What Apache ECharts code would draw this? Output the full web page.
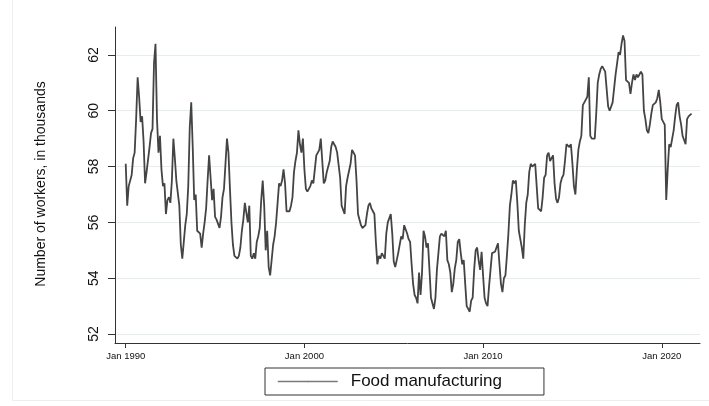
<!DOCTYPE html>
<html><head><meta charset="utf-8">
<script src="https://cdn.jsdelivr.net/npm/echarts@6/dist/echarts.min.js"></script>
<style>html,body{margin:0;padding:0;background:#fff}#c{width:709px;height:406px}</style>
</head><body><div id="c"></div>
<script>
const seriesName = 'Food manufacturing';
const yAxisTitle = 'Number of workers, in thousands';
const startYear = 1990;
const values1990s = [
  58.1, 56.6, 57.3, 57.3, 57.7, 58.3, 58.5, 59.7, 61.2, 60.5, 59.6, 59.8,
  58.9, 57.4, 57.8, 57.8, 58.7, 59.2, 59.35, 61.7, 62.4, 59.7, 58.5, 59.1,
  57.9, 57.3, 57.4, 56.3, 56.8, 56.9, 56.7, 57.5, 59.0, 58.3, 57.5, 57.5,
  56.6, 55.2, 54.7, 55.3, 55.9, 56.3, 57.3, 59.4, 60.3, 58.7, 56.8, 57.0,
  55.7, 55.7, 55.6, 55.1, 55.6, 56.0, 56.5, 57.5, 58.4, 57.6, 56.8, 57.2,
  56.2, 56.1, 56.1, 55.8, 56.2, 56.9, 57.2, 58.1, 59.0, 58.5, 57.2, 56.0,
  55.2, 54.8, 54.8, 54.7, 54.8, 55.1, 55.7, 56.1, 56.7, 56.7, 56.0, 56.6,
  54.8, 54.7, 54.9, 54.7, 55.3, 55.5, 55.8, 56.8, 57.5, 56.6, 55.0, 55.7,
  54.4, 54.1, 54.1, 55.2, 55.5, 56.0, 56.7, 57.4, 57.3, 57.5, 57.9, 57.4,
  56.4, 56.4, 56.4, 56.6, 56.9, 57.8, 58.2, 58.5, 59.3, 58.8, 58.5, 59.0
];
const values2000s = [
  57.9, 57.2, 57.1, 57.1, 57.3, 57.5, 57.4, 57.9, 58.4, 58.4, 58.6, 59.0,
  58.2, 57.4, 57.5, 57.8, 58.0, 58.2, 58.7, 58.9, 58.85, 58.7, 58.5, 58.5,
  57.6, 56.6, 56.6, 56.3, 57.3, 57.6, 57.6, 58.1, 58.6, 58.5, 58.4, 57.5,
  56.3, 56.3, 55.9, 55.8, 55.8, 55.9, 56.3, 56.6, 56.7, 56.5, 56.4, 56.3,
  55.3, 54.5, 54.8, 54.7, 54.9, 54.9, 54.7, 55.6, 56.0, 56.0, 56.3, 55.6,
  54.6, 54.4, 54.35, 54.9, 54.95, 55.5, 55.4, 55.9, 55.9, 55.6, 55.4, 55.3,
  54.5, 53.8, 53.4, 53.3, 53.1, 54.2, 53.4, 54.2, 55.7, 55.5, 55.1, 55.25,
  54.3, 53.3, 53.3, 52.9, 53.3, 54.3, 54.9, 55.5, 55.6, 55.6, 55.5, 55.7,
  54.65, 54.5, 54.2, 53.5, 53.8, 54.35, 54.65, 55.3, 55.4, 54.9, 54.5, 54.65,
  53.8, 53.0, 52.9, 52.8, 53.2, 53.3, 54.3, 55.0, 55.1, 54.65, 54.3, 54.95
];
const values2010s = [
  54.1, 53.3, 53.1, 53.0, 53.7, 54.3, 54.9, 54.9, 54.95, 54.9, 55.25, 54.5,
  53.8, 53.5, 54.0, 54.1, 54.8, 55.6, 56.6, 57.0, 57.5, 57.4, 57.5, 56.7,
  55.7, 55.4, 55.1, 54.7, 55.9, 56.7, 57.0, 57.8, 58.1, 58.0, 58.0, 58.1,
  57.3, 56.5, 56.5, 56.4, 56.9, 57.6, 57.7, 58.4, 58.5, 58.2, 58.2, 58.4,
  57.4, 56.85, 56.7, 56.9, 57.4, 57.6, 57.7, 58.2, 58.8, 58.8, 58.7, 58.8,
  58.1, 57.3, 57.0, 57.9, 58.6, 58.9, 59.1, 60.2, 60.3, 60.4, 60.5, 61.2,
  59.1, 59.0, 59.0, 59.0, 59.9, 61.0, 61.3, 61.5, 61.6, 61.6, 61.4, 61.4,
  60.15, 60.0, 60.0, 60.3, 60.8, 61.3, 61.7, 62.1, 62.0, 62.4, 62.7, 62.5,
  61.1, 61.1, 61.0, 60.6, 61.0, 61.3, 61.1, 61.3, 61.2, 61.3, 61.4, 61.3,
  60.0, 59.7, 59.3, 59.2, 59.5, 59.9, 60.2, 60.15, 60.3, 60.45, 60.75, 60.3
];
const values2020s = [
  59.7, 59.6, 59.5, 56.8, 57.9, 58.8, 58.7, 59.0, 59.3, 59.8, 60.2, 60.3,
  59.8, 59.5, 59.1, 58.95, 58.8, 59.7, 59.8, 59.8, 59.9
];
const xTickYears = [1990, 2000, 2010, 2020];
const yTickValues = [52, 54, 56, 58, 60, 62];

const allValues = values1990s.concat(values2000s, values2010s, values2020s);
const seriesData = allValues.map((v, i) => [startYear + i / 12, v]);

const chart = echarts.init(document.getElementById('c'), null, {renderer: 'canvas'});
const font = 'Liberation Sans, Arial, sans-serif';
chart.setOption({
  backgroundColor: '#ffffff',
  animation: false,
  textStyle: {fontFamily: font},
  grid: {left: 115, right: 9, top: 27, bottom: 63, containLabel: false},
  xAxis: {
    type: 'value', min: 1989.40, max: 2022.14,
    axisLine: {show: true, onZero: false, lineStyle: {color: '#333', width: 1}},
    axisTick: {show: true, length: 5, lineStyle: {color: '#333'}, customValues: xTickYears},
    axisLabel: {customValues: xTickYears, formatter: v => 'Jan ' + Math.round(v), fontSize: 9.5, color: '#111', margin: 8, fontFamily: font},
    splitLine: {show: false}
  },
  yAxis: {
    type: 'value', min: 51.68, max: 63.0,
    axisLine: {show: true, onZero: false, lineStyle: {color: '#333', width: 1}},
    axisTick: {show: true, length: 7, lineStyle: {color: '#333'}, customValues: yTickValues},
    axisLabel: {customValues: yTickValues, rotate: 90, fontSize: 14, color: '#111', margin: 14, fontFamily: font},
    splitLine: {show: true, lineStyle: {color: '#e4edf1', width: 1}}
  },
  legend: {
    show: true, left: 265, top: 368,
    data: [seriesName],
    borderColor: '#333', borderWidth: 1, borderRadius: 0,
    padding: [5, 42, 5, 12],
    itemWidth: 60, itemHeight: 2,
    lineStyle: {color: '#7a7a7a', width: 1.5},
    itemStyle: {color: '#7a7a7a'},
    textStyle: {fontSize: 17, color: '#111', fontFamily: font, padding: [0, 0, 0, 8]}
  },
  graphic: [
    {type: 'rect', silent: true, shape: {x: 12.5, y: -2, width: 700, height: 402.5}, style: {fill: 'none', stroke: '#eeeeee', lineWidth: 1}},
    {type: 'text', silent: true, x: 41, y: 184, rotation: Math.PI / 2,
     style: {text: yAxisTitle, fontSize: 14, fontFamily: font, fill: '#111', align: 'center', verticalAlign: 'middle'}}
  ],
  series: [{
    name: seriesName, type: 'line', data: seriesData,
    showSymbol: false, symbol: 'none',
    lineStyle: {color: '#444444', width: 1.8},
    itemStyle: {color: '#444444'}
  }]
});
</script>
</body></html>
